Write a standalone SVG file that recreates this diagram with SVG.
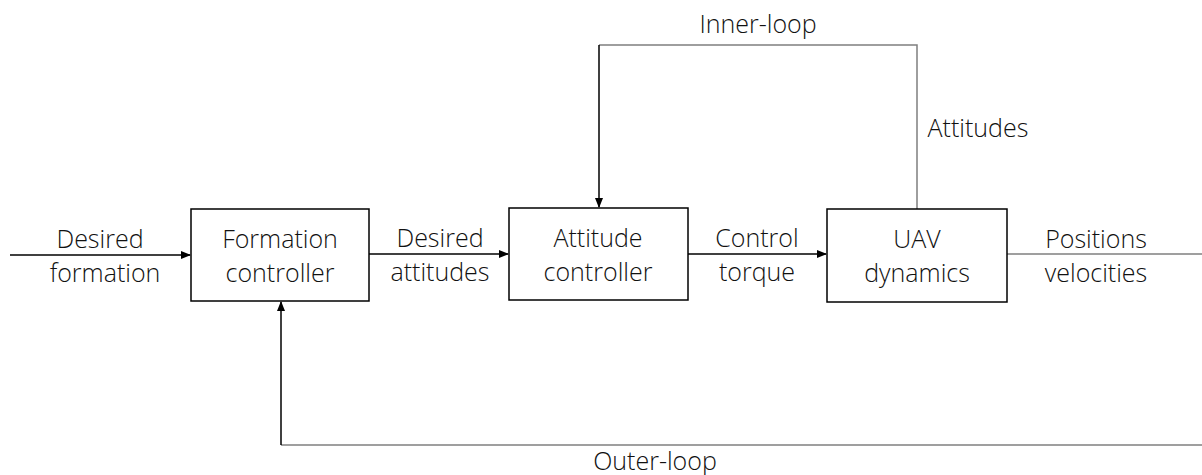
<svg xmlns="http://www.w3.org/2000/svg" width="1202" height="475" viewBox="0 0 1202 475">
<style>
.box{fill:#fff;stroke:#000;stroke-width:1.5}
.t{font-family:"Open Sans","Liberation Sans",sans-serif;font-size:25px;font-weight:300;fill:#111;text-anchor:middle}
.w{fill:none;stroke:#000;stroke-width:1.5}
.g{fill:none;stroke:#7f7f7f;stroke-width:1.5}
</style>
<defs>
<marker id="ah" markerWidth="10" markerHeight="8" refX="9" refY="4" orient="auto" markerUnits="userSpaceOnUse">
<path d="M0,0 L10,4 L0,8 Z" fill="#000"/>
</marker>
</defs>
<g id="connectors">
<path class="w" d="M10,255 L190,255" marker-end="url(#ah)"/>
<path class="w" d="M369,254 L508,254" marker-end="url(#ah)"/>
<path class="w" d="M688,254 L826,254" marker-end="url(#ah)"/>
<path class="g" d="M1007,254 L1202,254"/>
<path class="g" d="M917,209 L917,45 L599,45"/>
<path class="w" d="M599,45 L599,207" marker-end="url(#ah)"/>
<path class="g" d="M1202,445 L281,445"/>
<path class="w" d="M281,445 L281,302" marker-end="url(#ah)"/>
</g>
<g id="formation-controller">
<rect class="box" x="191" y="209" width="178" height="92"/>
<text class="t" x="280" y="248">Formation</text>
<text class="t" x="280" y="282">controller</text>
</g>
<g id="attitude-controller">
<rect class="box" x="509" y="208" width="179" height="92"/>
<text class="t" x="598" y="247">Attitude</text>
<text class="t" x="598" y="281">controller</text>
</g>
<g id="uav-dynamics">
<rect class="box" x="827" y="209" width="180" height="93"/>
<text class="t" x="917" y="248">UAV</text>
<text class="t" x="917" y="282">dynamics</text>
</g>
<g id="labels">
<text class="t" x="100" y="248">Desired</text>
<text class="t" x="105" y="282">formation</text>
<text class="t" x="440" y="247">Desired</text>
<text class="t" x="440" y="281">attitudes</text>
<text class="t" x="757" y="247">Control</text>
<text class="t" x="757" y="281">torque</text>
<text class="t" x="1096" y="248">Positions</text>
<text class="t" x="1096" y="282">velocities</text>
<text class="t" x="758" y="33">Inner-loop</text>
<text class="t" x="978" y="137">Attitudes</text>
<text class="t" x="655" y="470">Outer-loop</text>
</g>
</svg>
